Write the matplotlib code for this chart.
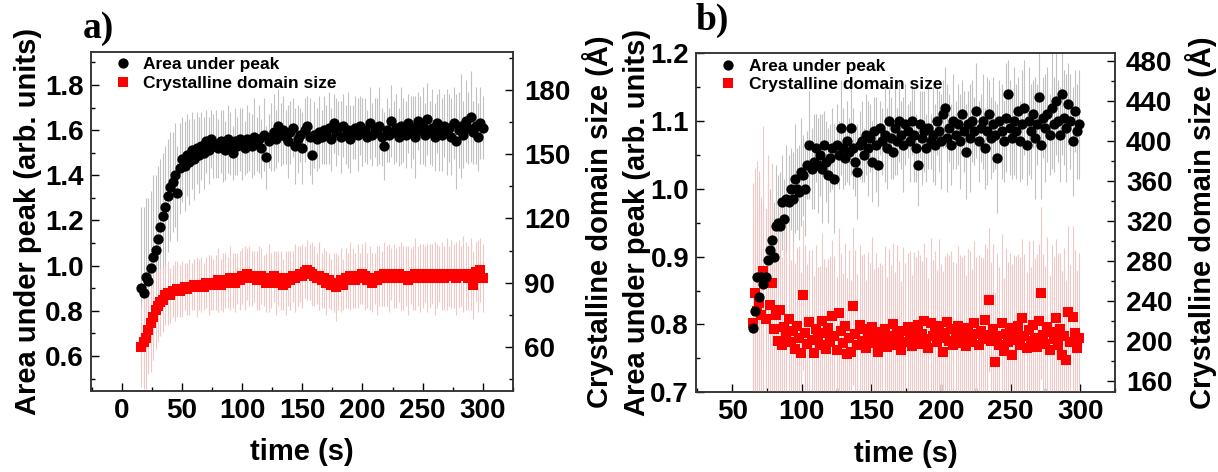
import numpy as np
import matplotlib
matplotlib.use("Agg")
import matplotlib.pyplot as plt
from matplotlib.ticker import MultipleLocator
from matplotlib.lines import Line2D

plt.rcParams["font.family"] = ["Liberation Sans", "DejaVu Sans"]
plt.rcParams["font.weight"] = "bold"
plt.rcParams["axes.labelweight"] = "bold"

# ── panel a data (sampled every 2 s, 16 … 300 s) ────────────────────────────
AREA_A = [
    0.90, 0.88, 0.95, 0.93, 0.99, 1.04, 1.07, 1.12, 1.17, 1.22,
    1.26, 1.31, 1.35, 1.37, 1.40, 1.32, 1.43, 1.47, 1.44, 1.49,
    1.46, 1.51, 1.47, 1.52, 1.49, 1.53, 1.50, 1.55, 1.51, 1.56,
    1.53, 1.54, 1.52, 1.55, 1.53, 1.51, 1.56, 1.54, 1.50, 1.55,
    1.53, 1.56, 1.54, 1.52, 1.56, 1.55, 1.53, 1.57, 1.54, 1.56,
    1.52, 1.58, 1.48, 1.55, 1.57, 1.59, 1.56, 1.62, 1.58, 1.60,
    1.57, 1.55, 1.59, 1.61, 1.53, 1.56, 1.58, 1.52, 1.60, 1.62,
    1.57, 1.49, 1.58, 1.56, 1.59, 1.57, 1.60, 1.58, 1.61, 1.56,
    1.63, 1.59, 1.61, 1.57, 1.62, 1.58, 1.60, 1.56, 1.59, 1.61,
    1.58, 1.62, 1.59, 1.60, 1.57, 1.63, 1.58, 1.61, 1.59, 1.62,
    1.57, 1.53, 1.60, 1.58, 1.64, 1.59, 1.61, 1.57, 1.62, 1.60,
    1.58, 1.63, 1.59, 1.61, 1.57, 1.64, 1.60, 1.62, 1.58, 1.65,
    1.59, 1.61, 1.57, 1.63, 1.60, 1.58, 1.62, 1.59, 1.61, 1.57,
    1.63, 1.55, 1.60, 1.62, 1.58, 1.64, 1.61, 1.66, 1.59, 1.62,
    1.57, 1.63, 1.61,
]
AREA_A_ERR = [
    0.36, 0.38, 0.35, 0.37, 0.34, 0.36, 0.33, 0.32, 0.30, 0.28,
    0.27, 0.25, 0.24, 0.22, 0.23, 0.21, 0.20, 0.19, 0.20, 0.18,
    0.19, 0.17, 0.18, 0.16, 0.17, 0.15, 0.16, 0.14, 0.15, 0.13,
    0.14, 0.15, 0.13, 0.14, 0.16, 0.13, 0.15, 0.14, 0.12, 0.15,
    0.13, 0.14, 0.16, 0.12, 0.15, 0.13, 0.14, 0.17, 0.12, 0.15,
    0.13, 0.16, 0.14, 0.12, 0.15, 0.17, 0.13, 0.16, 0.14, 0.15,
    0.12, 0.16, 0.14, 0.13, 0.17, 0.15, 0.12, 0.16, 0.14, 0.13,
    0.17, 0.13, 0.15, 0.14, 0.16, 0.12, 0.15, 0.13, 0.16, 0.14,
    0.13, 0.15, 0.12, 0.16, 0.14, 0.13, 0.17, 0.15, 0.12, 0.14,
    0.16, 0.13, 0.15, 0.14, 0.12, 0.16, 0.14, 0.13, 0.15, 0.17,
    0.13, 0.15, 0.14, 0.12, 0.16, 0.14, 0.15, 0.13, 0.17, 0.14,
    0.15, 0.13, 0.16, 0.14, 0.18, 0.13, 0.15, 0.17, 0.14, 0.16,
    0.14, 0.17, 0.15, 0.13, 0.18, 0.16, 0.14, 0.19, 0.15, 0.17,
    0.16, 0.21, 0.17, 0.23, 0.15, 0.18, 0.16, 0.20, 0.14, 0.17,
    0.15, 0.16, 0.14,
]
SIZE_A = [
    60, 62, 64, 68, 71, 74, 77, 79, 81, 82,
    84, 85, 84, 86, 86, 87, 86, 87, 88, 87,
    88, 88, 89, 88, 89, 89, 88, 90, 89, 90,
    89, 90, 91, 89, 90, 91, 90, 92, 91, 90,
    92, 91, 93, 92, 94, 93, 92, 93, 91, 92,
    93, 91, 90, 92, 91, 93, 90, 92, 91, 89,
    90, 92, 91, 93, 92, 93, 94, 93, 95, 96,
    95, 94, 93, 92, 93, 91, 92, 90, 91, 89,
    90, 88, 90, 91, 89, 92, 91, 93, 92, 91,
    93, 92, 94, 93, 91, 92, 90, 92, 91, 93,
    92, 94, 93, 92, 94, 93, 92, 94, 93, 92,
    93, 91, 93, 92, 94, 93, 92, 93, 94, 92,
    93, 94, 92, 93, 94, 93, 92, 94, 93, 94,
    93, 92, 94, 93, 94, 93, 92, 94, 89, 95,
    93, 96, 92,
]
SIZE_A_ERR = [
    19, 22, 24, 21, 23, 20, 18, 17, 16, 15,
    14, 15, 13, 12, 14, 13, 12, 13, 11, 12,
    13, 11, 12, 14, 12, 13, 11, 12, 14, 13,
    12, 13, 15, 12, 14, 13, 12, 15, 13, 14,
    12, 14, 13, 15, 12, 14, 13, 12, 14, 15,
    13, 12, 14, 16, 13, 12, 15, 13, 14, 12,
    15, 13, 14, 12, 16, 14, 13, 15, 12, 14,
    13, 15, 14, 12, 16, 13, 14, 15, 13, 12,
    14, 16, 13, 15, 12, 14, 13, 16, 14, 13,
    15, 12, 14, 16, 13, 15, 14, 12, 16, 14,
    13, 15, 14, 16, 12, 15, 14, 13, 16, 15,
    14, 16, 13, 15, 17, 14, 16, 15, 13, 16,
    15, 14, 17, 15, 13, 16, 15, 17, 14, 16,
    15, 17, 16, 14, 18, 16, 15, 17, 16, 14,
    17, 15, 16,
]
TIME_A = np.linspace(16, 300, len(AREA_A))

# ── panel b data (sampled every 1.5 s, 65 … 299 s) ──────────────────────────
AREA_B = [
    0.795, 0.82, 0.87, 0.84, 0.87, 0.86, 0.87, 0.895, 0.91, 0.925,
    0.90, 0.945, 0.95, 0.945, 0.98, 0.955, 0.985, 0.98, 1.0, 0.985,
    1.015, 1.0, 0.995, 1.025, 1.02, 1.0, 1.035, 1.065, 1.03, 1.04,
    1.06, 1.035, 1.05, 1.03, 1.065, 1.04, 1.02, 1.045, 1.06, 1.015,
    1.065, 1.05, 1.09, 1.06, 1.045, 1.07, 1.055, 1.09, 1.06, 1.04,
    1.025, 1.065, 1.07, 1.05, 1.08, 1.06, 1.075, 1.04, 1.085, 1.065,
    1.035, 1.09, 1.07, 1.08, 1.06, 1.1, 1.075, 1.055, 1.09, 1.07,
    1.1, 1.08, 1.065, 1.095, 1.085, 1.07, 1.1, 1.08, 1.06, 1.035,
    1.095, 1.075, 1.085, 1.06, 1.09, 1.07, 1.08, 1.065, 1.1, 1.085,
    1.07, 1.11, 1.12, 1.075, 1.09, 1.065, 1.1, 1.08, 1.095, 1.07,
    1.11, 1.085, 1.055, 1.095, 1.075, 1.1, 1.085, 1.115, 1.07, 1.09,
    1.1, 1.06, 1.085, 1.11, 1.075, 1.095, 1.08, 1.045, 1.1, 1.085,
    1.07, 1.105, 1.14, 1.09, 1.075, 1.1, 1.085, 1.115, 1.07, 1.095,
    1.12, 1.065, 1.1, 1.085, 1.11, 1.075, 1.095, 1.135, 1.065, 1.105,
    1.09, 1.11, 1.08, 1.12, 1.095, 1.13, 1.1, 1.08, 1.14, 1.105,
    1.09, 1.125, 1.1, 1.07, 1.115, 1.085, 1.095,
]
AREA_B_ERR = [
    0.15, 0.14, 0.12, 0.13, 0.11, 0.12, 0.10, 0.11, 0.09, 0.10,
    0.08, 0.09, 0.07, 0.08, 0.07, 0.06, 0.08, 0.07, 0.06, 0.07,
    0.08, 0.06, 0.07, 0.08, 0.06, 0.07, 0.05, 0.08, 0.06, 0.07,
    0.05, 0.07, 0.06, 0.08, 0.05, 0.06, 0.07, 0.05, 0.06, 0.08,
    0.06, 0.05, 0.07, 0.06, 0.04, 0.06, 0.05, 0.07, 0.06, 0.05,
    0.07, 0.05, 0.06, 0.04, 0.06, 0.07, 0.05, 0.06, 0.05, 0.07,
    0.06, 0.04, 0.05, 0.07, 0.06, 0.05, 0.06, 0.04, 0.07, 0.05,
    0.06, 0.05, 0.07, 0.06, 0.04, 0.06, 0.05, 0.07, 0.05, 0.06,
    0.05, 0.07, 0.06, 0.05, 0.06, 0.04, 0.07, 0.06, 0.05, 0.06,
    0.07, 0.05, 0.06, 0.08, 0.05, 0.06, 0.07, 0.05, 0.06, 0.07,
    0.05, 0.06, 0.07, 0.05, 0.08, 0.06, 0.05, 0.07, 0.06, 0.05,
    0.07, 0.06, 0.08, 0.05, 0.06, 0.07, 0.05, 0.08, 0.06, 0.07,
    0.06, 0.08, 0.05, 0.07, 0.06, 0.08, 0.07, 0.05, 0.06, 0.08,
    0.07, 0.06, 0.08, 0.07, 0.05, 0.09, 0.06, 0.07, 0.08, 0.06,
    0.08, 0.07, 0.06, 0.09, 0.07, 0.08, 0.06, 0.07, 0.09, 0.07,
    0.08, 0.06, 0.07, 0.08, 0.06, 0.07, 0.08,
]
SIZE_B = [
    218, 248, 230, 238, 226, 270, 222, 258, 236, 258,
    212, 226, 200, 231, 196, 214, 205, 222, 199, 210,
    192, 215, 203, 188, 246, 208, 197, 219, 201, 188,
    212, 204, 196, 220, 208, 192, 213, 199, 225, 205,
    191, 228, 210, 198, 215, 187, 203, 189, 235, 207,
    196, 216, 200, 212, 193, 207, 201, 214, 198, 209,
    189, 206, 198, 212, 194, 205, 200, 217, 196, 208,
    203, 191, 210, 199, 214, 204, 195, 209, 201, 216,
    197, 207, 220, 202, 193, 218, 205, 211, 199, 215,
    203, 189, 208, 219, 200, 212, 196, 206, 215, 198,
    209, 202, 195, 213, 204, 199, 218, 207, 196, 210,
    202, 221, 206, 241, 200, 212, 179, 205, 196, 218,
    190, 207, 199, 213, 186, 209, 201, 215, 196, 223,
    205, 193, 211, 200, 216, 203, 194, 220, 248, 206,
    197, 214, 191, 209, 202, 223, 196, 212, 186, 205,
    181, 229, 199, 224, 208, 193, 203,
]
SIZE_B_ERR = [
    140, 125, 150, 132, 118, 145, 110, 128, 105, 120,
    98, 110, 92, 104, 88, 96, 85, 93, 82, 90,
    86, 78, 92, 81, 75, 88, 80, 72, 90, 77,
    84, 70, 79, 88, 74, 82, 69, 86, 76, 80,
    73, 85, 78, 70, 83, 76, 88, 72, 79, 84,
    71, 80, 86, 75, 68, 82, 77, 90, 74, 79,
    85, 72, 78, 83, 70, 87, 76, 81, 73, 88,
    77, 69, 84, 79, 74, 86, 71, 80, 83, 75,
    89, 73, 78, 82, 70, 85, 76, 79, 72, 87,
    74, 81, 77, 69, 86, 78, 83, 72, 80, 88,
    75, 84, 71, 79, 86, 73, 82, 77, 90, 74,
    81, 76, 87, 72, 79, 85, 70, 83, 78, 89,
    73, 86, 80, 75, 91, 77, 84, 72, 88, 79,
    82, 76, 89, 74, 85, 80, 93, 77, 86, 81,
    78, 90, 75, 87, 82, 79, 92, 76, 84, 88,
    80, 86, 77, 91, 83, 78, 85,
]
TIME_B = np.linspace(65, 299, len(AREA_B))

LEFT_LABEL  = "Area under peak (arb. units)"
RIGHT_LABEL = "Crystalline domain size (Å)"
X_LABEL     = "time (s)"
LEGEND      = ["Area under peak", "Crystalline domain size"]

GREY = "#c2c2c2"
PINK = "#efc8c8"
RED  = "#ff0000"
MS_DOT = 7.4
MS_SQ  = 6.6


def panel(rect, t, area, area_err, size, size_err, xlim, ylim_l, ylim_r,
          xmaj, xmin, lmaj, lmin, rmaj, rmin, letter, letter_xy, lab_x):
    # base axes: grey error bars, left scale
    ax = fig.add_axes(rect)
    ax.errorbar(t, area, yerr=area_err, fmt="none", ecolor=GREY,
                elinewidth=0.8, capsize=0)
    ax.set_xlim(*xlim)
    ax.set_ylim(*ylim_l)

    # right scale: pink error bars + red squares
    axr = ax.twinx()
    axr.errorbar(t, size, yerr=size_err, fmt="none", ecolor=PINK,
                 elinewidth=0.8, capsize=0)
    axr.plot(t, size, "s", color=RED, ms=MS_SQ, mew=0)
    axr.set_ylim(*ylim_r)

    # top layer: black dots on the left scale
    axk = fig.add_axes(rect, sharex=ax, sharey=ax)
    axk.patch.set_visible(False)
    axk.plot(t, area, "o", color="black", ms=MS_DOT, mew=0)
    axk.axis("off")

    for a in (ax, axr):
        for s in a.spines.values():
            s.set_linewidth(1.1)
            s.set_color("#333333")
        a.tick_params(which="both", direction="in", labelsize=20, width=1.0,
                      pad=5, top=False)
        a.tick_params(which="major", length=6)
        a.tick_params(which="minor", length=3)
    ax.tick_params(which="both", right=False)
    axr.tick_params(axis="y", pad=8)

    ax.xaxis.set_major_locator(MultipleLocator(xmaj))
    ax.xaxis.set_minor_locator(MultipleLocator(xmin))
    ax.yaxis.set_major_locator(MultipleLocator(lmaj))
    ax.yaxis.set_minor_locator(MultipleLocator(lmin))
    axr.yaxis.set_major_locator(MultipleLocator(rmaj))
    axr.yaxis.set_minor_locator(MultipleLocator(rmin))

    ax.set_xlabel(X_LABEL, fontsize=21, fontweight="bold")
    ax.set_ylabel(LEFT_LABEL, fontsize=21, fontweight="bold")
    axr.set_ylabel(RIGHT_LABEL, fontsize=21, fontweight="bold")
    ax.xaxis.set_label_coords(0.5, -0.14)
    ax.yaxis.set_label_coords(lab_x[0], 0.5)
    axr.yaxis.set_label_coords(lab_x[1], 0.5)

    handles = [
        Line2D([0], [0], marker="o", ls="none", color="black", ms=MS_DOT, mew=0),
        Line2D([0], [0], marker="s", ls="none", color=RED, ms=MS_SQ, mew=0),
    ]
    axk.legend(handles, LEGEND, loc="upper left", bbox_to_anchor=(0.022, 1.025),
               frameon=False, fontsize=12.5, handlelength=1.0,
               handletextpad=0.7, labelspacing=0.2, borderpad=0.3)

    ax.text(letter_xy[0], letter_xy[1], letter, transform=ax.transAxes,
            family="Liberation Serif", fontsize=27, fontweight="bold",
            va="baseline", ha="left")
    return ax


fig = plt.figure(figsize=(12.18, 4.72), dpi=100)

panel([0.0745, 0.1722, 0.3465, 0.7182], TIME_A, AREA_A, AREA_A_ERR,
      SIZE_A, SIZE_A_ERR, (-26, 325), (0.446, 1.947), (39.4, 198),
      50, 25, 0.2, 0.1, 30, 15, "a)", (-0.02, 1.04), (-0.115, 1.165))

panel([0.5714, 0.1689, 0.3440, 0.7182], TIME_B, AREA_B, AREA_B_ERR,
      SIZE_B, SIZE_B_ERR, (24, 325), (0.7, 1.2), (149, 488),
      50, 25, 0.1, 0.05, 40, 20, "b)", (0.0, 1.07), (-0.107, 1.168))

fig.savefig("out.png", dpi=100)
